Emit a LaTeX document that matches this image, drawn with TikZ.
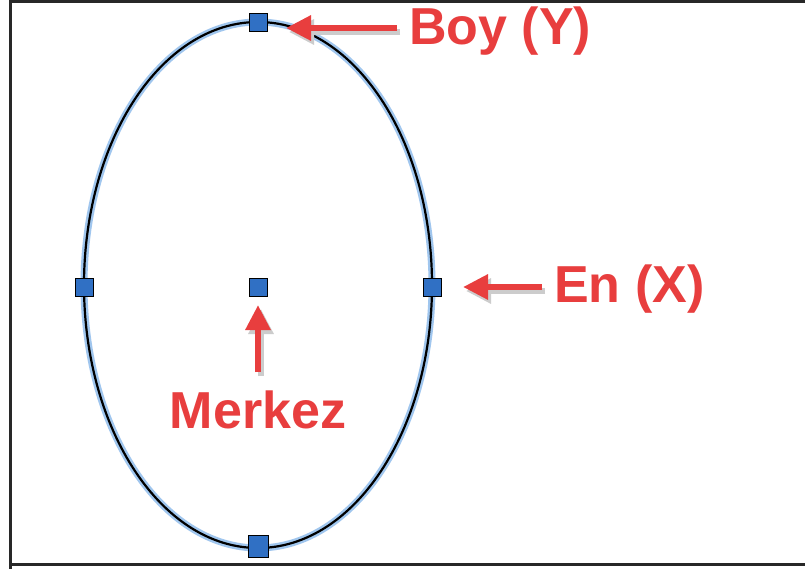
\documentclass[tikz,border=0pt]{standalone}
\usepackage{fontspec}
\setmainfont{Liberation Sans}
\usetikzlibrary{arrows.meta}
\definecolor{lbl}{RGB}{232,62,62}
\definecolor{sq}{RGB}{48,112,196}
\definecolor{glow}{RGB}{160,198,238}
\definecolor{frm}{RGB}{40,40,40}
\tikzset{
  handle/.style={draw=black, fill=sq, line width=0.9pt, minimum size=18pt, inner sep=0pt},
  redarrow/.style={draw=lbl, line width=6pt, -{Triangle[length=25pt,width=24pt]}, shorten >=2pt},
  shadowarrow/.style={draw=black!20, line width=6pt, -{Triangle[length=25pt,width=24pt]}, shorten >=2pt},
  lbltext/.style={text=lbl, font=\fontsize{52}{52}\selectfont\bfseries, inner sep=0pt}
}
\begin{document}
\begin{tikzpicture}[x=1pt,y=-1pt]
\useasboundingbox (0,0) rectangle (805,569);
\fill[white] (0,0) rectangle (805,569);
% frame
\draw[frm, line width=3pt] (10.5,569) -- (10.5,1.5) -- (805,1.5);
\draw[frm, line width=3pt] (10.5,564.5) -- (805,564.5);
% ellipse
\draw[glow, line width=7pt] (258,285) ellipse [x radius=174, y radius=263];
\draw[black, line width=2.2pt] (258,285) ellipse [x radius=174, y radius=263];
% handles
\node[handle] (top) at (258,22) {};
\node[handle] (left) at (84,287) {};
\node[handle] (right) at (432,287) {};
\node[handle] (ctr) at (258,287) {};
\node[handle, minimum width=20pt, minimum height=22pt] (bot) at (258,546) {};
% labels
\node[lbltext, anchor=west] (boy) at (409,31) {Boy (Y)};
\node[lbltext, anchor=west] (en) at (554,289) {En (X)};
\node[lbltext] (merkez) at (258,410) {Merkez};
% arrow end coordinates
\coordinate (boyS) at (397,28);
\coordinate (boyE) at (284,28);
\coordinate (enS) at (542,287);
\coordinate (enE) at (461,287);
\coordinate (mS) at (258,372);
\coordinate (mE) at (258,303);
% shadows
\draw[shadowarrow] ([shift={(3,4)}]boyS) -- ([shift={(3,4)}]boyE);
\draw[shadowarrow] ([shift={(3,4)}]enS) -- ([shift={(3,4)}]enE);
\draw[shadowarrow] ([shift={(3,4)}]mS) -- ([shift={(3,4)}]mE);
% arrows
\draw[redarrow] (boyS) -- (boyE);
\draw[redarrow] (enS) -- (enE);
\draw[redarrow] (mS) -- (mE);
\end{tikzpicture}
\end{document}
